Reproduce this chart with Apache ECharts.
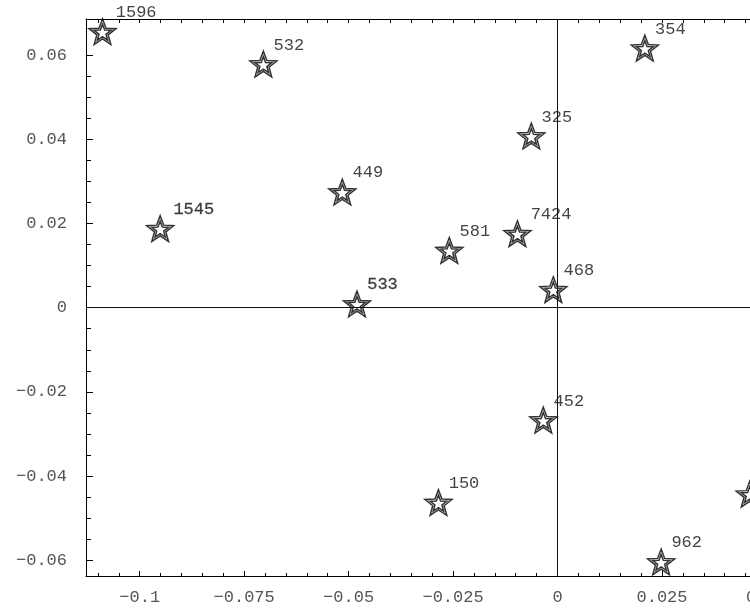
<!DOCTYPE html>
<html>
<head>
<meta charset="utf-8">
<script src="https://cdn.jsdelivr.net/npm/echarts@6/dist/echarts.min.js"></script>
<style>
  html, body { margin: 0; padding: 0; background: #fff; width: 750px; height: 610px; overflow: hidden; }
  /* the plot frame runs past the right edge of the page */
  #chart { width: 850px; height: 610px; }
</style>
</head>
<body>
<div id="chart"></div>
<script>
// Point labels and coordinates
const pointNames = ['1596', '532', '354', '325', '449', '1545', '581', '7424', '533', '468', '452', '150', '962', ''];
const xValues = [-0.1089, -0.0704, 0.0209, -0.00627, -0.0515, -0.0951, -0.0259, -0.0096, -0.0480, -0.0010, -0.0034, -0.0285, 0.0248, 0.0460];
const yValues = [0.0656, 0.0579, 0.0617, 0.0408, 0.0275, 0.0188, 0.0136, 0.0176, 0.0009, 0.0043, -0.0267, -0.0463, -0.0604, -0.0443];

// Labels printed twice (heavier text)
const doubledLabels = ['1545', '533'];

// Axis ticks and their labels
const xTicks = [-0.1, -0.075, -0.05, -0.025, 0, 0.025, 0.05];
const xTickLabels = ['-0.1', '-0.075', '-0.05', '-0.025', '0', '0.025', '0.05'];
const yTicks = [-0.06, -0.04, -0.02, 0, 0.02, 0.04, 0.06];
const yTickLabels = ['-0.06', '-0.04', '-0.02', '0', '0.02', '0.04', '0.06'];

const X_MIN = -0.11285, X_MAX = 0.07;
const Y_MIN = -0.06376, Y_MAX = 0.06861;

// Minor tick positions every 0.005
const xMinor = [], xAll = [], yMinor = [];
for (let k = -22; k <= 14; k++) {
  const v = +(k * 0.005).toFixed(4);
  xAll.push(v);
  if (k % 5 !== 0) xMinor.push(v);
}
for (let k = -12; k <= 12; k++) {
  const v = +(k * 0.005).toFixed(4);
  if (k % 4 !== 0) yMinor.push(v);
}

// Double-outlined five-point star
function starRing(R, r, cx, cy) {
  let d = '';
  for (let i = 0; i < 10; i++) {
    const a = -Math.PI / 2 + i * Math.PI / 5;
    const rad = i % 2 === 0 ? R : r;
    d += (i === 0 ? 'M' : 'L') + (cx + rad * Math.cos(a)).toFixed(2) + ' ' + (cy + rad * Math.sin(a)).toFixed(2) + ' ';
  }
  return d + 'Z ';
}
const starPath = 'path://' + starRing(50, 21, 50, 50) + starRing(31, 13, 50, 50);

function tickText(list, labels) {
  return function (v) {
    for (let i = 0; i < list.length; i++) {
      if (Math.abs(list[i] - v) < 1e-9) return labels[i].replace('-', '\u2212');
    }
    return '';
  };
}

const axisFont = { fontFamily: 'Liberation Mono', fontSize: 17, color: '#555' };

const points = pointNames.map((n, i) => ({
  name: n,
  value: [xValues[i], yValues[i]],
  label: {
    offset: [n.length >= 4 ? -1 : -4, -19],
    textBorderColor: doubledLabels.includes(n) ? '#222' : 'transparent',
    textBorderWidth: doubledLabels.includes(n) ? 0.3 : 0
  }
}));

const chart = echarts.init(document.getElementById('chart'), null, { renderer: 'canvas' });
chart.setOption({
  animation: false,
  backgroundColor: '#fff',
  grid: { left: 86, top: 19, bottom: 34, right: 0, containLabel: false },
  xAxis: [
    {
      type: 'value', position: 'bottom', min: X_MIN, max: X_MAX,
      axisLine: { show: true, onZero: false, lineStyle: { color: '#000', width: 1 } },
      axisTick: { show: true, inside: true, length: 5, customValues: xTicks, lineStyle: { color: '#000' } },
      axisLabel: Object.assign({ show: true, margin: 13, customValues: xTicks, formatter: tickText(xTicks, xTickLabels) }, axisFont),
      splitLine: { show: false }
    },
    {
      type: 'value', position: 'bottom', min: X_MIN, max: X_MAX,
      axisLine: { show: false, onZero: false },
      axisTick: { show: true, inside: true, length: 3, customValues: xMinor, lineStyle: { color: '#000' } },
      axisLabel: { show: false },
      splitLine: { show: false }
    },
    {
      type: 'value', position: 'top', min: X_MIN, max: X_MAX,
      axisLine: { show: true, onZero: false, lineStyle: { color: '#000', width: 1 } },
      axisTick: { show: true, inside: true, length: 4, customValues: xAll, lineStyle: { color: '#000' } },
      axisLabel: { show: false },
      splitLine: { show: false }
    }
  ],
  yAxis: [
    {
      type: 'value', position: 'left', min: Y_MIN, max: Y_MAX,
      axisLine: { show: true, onZero: false, lineStyle: { color: '#000', width: 1 } },
      axisTick: { show: true, inside: true, length: 7, customValues: yTicks, lineStyle: { color: '#000' } },
      axisLabel: Object.assign({ show: true, margin: 19, customValues: yTicks, formatter: tickText(yTicks, yTickLabels) }, axisFont),
      splitLine: { show: false }
    },
    {
      type: 'value', position: 'left', min: Y_MIN, max: Y_MAX,
      axisLine: { show: false, onZero: false },
      axisTick: { show: true, inside: true, length: 5, customValues: yMinor, lineStyle: { color: '#000' } },
      axisLabel: { show: false },
      splitLine: { show: false }
    }
  ],
  series: [
    {
      type: 'scatter',
      xAxisIndex: 0, yAxisIndex: 0,
      clip: false,
      symbol: starPath,
      symbolSize: 27,
      symbolKeepAspect: true,
      itemStyle: { color: '#fff', borderColor: '#000', borderWidth: 1.5 },
      label: {
        show: true, position: 'right', distance: 0,
        formatter: p => p.name,
        fontFamily: 'Liberation Mono', fontSize: 17, color: '#111'
      },
      markLine: {
        silent: true, symbol: 'none', animation: false,
        label: { show: false },
        lineStyle: { color: '#111', width: 1, type: 'solid' },
        data: [{ xAxis: 0 }, { yAxis: 0 }]
      },
      data: points,
      z: 3
    }
  ]
});
</script>
</body>
</html>
